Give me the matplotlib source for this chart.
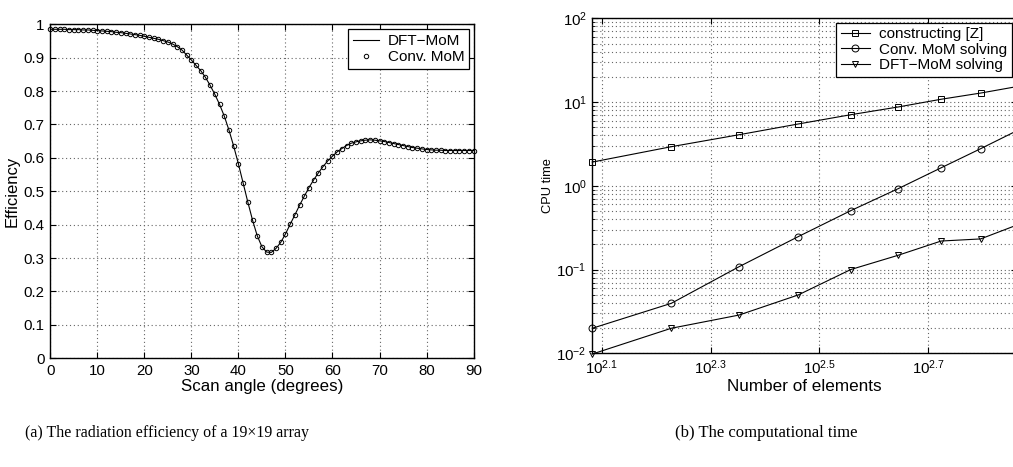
import numpy as np
import matplotlib
matplotlib.use("Agg")
import matplotlib.pyplot as plt
from matplotlib.ticker import FixedLocator, FixedFormatter, LogLocator, NullFormatter

plt.rcParams["font.family"] = ["Liberation Sans", "DejaVu Sans"]
plt.rcParams["mathtext.fontset"] = "custom"
plt.rcParams["mathtext.rm"] = "Liberation Sans"
plt.rcParams["mathtext.it"] = "Liberation Sans:italic"

# (a) radiation efficiency vs scan angle, one sample per degree
angle = np.arange(0, 91)
efficiency = [
    0.985, 0.985, 0.985, 0.985, 0.984, 0.984, 0.984, 0.983, 0.983, 0.982,
    0.981, 0.980, 0.979, 0.978, 0.976, 0.975, 0.973, 0.971, 0.969, 0.967,
    0.964, 0.961, 0.958, 0.955, 0.951, 0.947, 0.941, 0.933, 0.923, 0.908,
    0.893, 0.877, 0.861, 0.841, 0.817, 0.790, 0.760, 0.725, 0.683, 0.635,
    0.582, 0.525, 0.468, 0.414, 0.367, 0.334, 0.318, 0.317, 0.329, 0.347,
    0.372, 0.401, 0.429, 0.458, 0.485, 0.511, 0.534, 0.555, 0.574, 0.591,
    0.605, 0.618, 0.628, 0.637, 0.644, 0.648, 0.651, 0.653, 0.654, 0.653,
    0.651, 0.649, 0.646, 0.643, 0.640, 0.637, 0.634, 0.631, 0.629, 0.627,
    0.625, 0.624, 0.623, 0.623, 0.622, 0.622, 0.622, 0.622, 0.622, 0.622,
    0.622,
]

# (b) CPU time vs number of elements
n_elements = [121, 169, 225, 289, 361, 441, 529, 625, 729]
t_construct = [1.92, 2.93, 4.07, 5.47, 7.06, 8.73, 10.8, 12.8, 15.3]
t_conv = [0.0199, 0.0395, 0.108, 0.247, 0.505, 0.923, 1.64, 2.77, 4.55]
t_dft = [0.0098, 0.0199, 0.0286, 0.0497, 0.100, 0.148, 0.219, 0.232, 0.34]

x_exps = [2.1, 2.3, 2.5, 2.7, 2.9]

fig = plt.figure(figsize=(10.13, 4.67), dpi=100)
ax1 = fig.add_axes([0.0496, 0.2328, 0.4179, 0.7152])
ax2 = fig.add_axes([0.5847, 0.2435, 0.4192, 0.7173])

grid_kw = dict(color="0.4", linestyle=(0, (1, 2.5)), linewidth=0.8)

# ---- left panel
ax1.plot(angle, efficiency, color="black", lw=0.8, label="DFT\u2212MoM")
ax1.plot(angle, efficiency, ls="none", marker="o", ms=3.2, mfc="none", mec="black",
         mew=0.7, label="Conv. MoM", clip_on=False)
ax1.set_xlim(0, 90)
ax1.set_ylim(0, 1)
ax1.set_xticks(np.arange(0, 91, 10))
ax1.set_yticks(np.arange(0, 1.01, 0.1))
ax1.set_yticklabels([f"{v:g}" for v in np.round(np.arange(0, 1.01, 0.1), 1)])
ax1.grid(True, **grid_kw)
ax1.set_xlabel("Scan angle (degrees)", fontsize=12.2, labelpad=1)
ax1.set_ylabel("Efficiency", fontsize=12, labelpad=3)
ax1.legend(loc="upper right", bbox_to_anchor=(0.99, 0.985), borderaxespad=0,
           fontsize=11, fancybox=False, edgecolor="black", framealpha=1,
           handlelength=1.7, handletextpad=0.6, labelspacing=0.15, borderpad=0.3)

# ---- right panel
ax2.loglog(n_elements, t_construct, color="black", lw=0.8, marker="s", ms=4.2,
           mfc="none", mew=0.7, label="constructing [Z]", clip_on=False)
ax2.loglog(n_elements, t_conv, color="black", lw=0.8, marker="o", ms=5,
           mfc="none", mew=0.7, label="Conv. MoM solving", clip_on=False)
ax2.loglog(n_elements, t_dft, color="black", lw=0.8, marker="v", ms=5,
           mfc="none", mew=0.7, label="DFT\u2212MoM solving", clip_on=False)
ax2.set_xlim(121, 729)
ax2.set_ylim(1e-2, 1e2)
ax2.xaxis.set_major_locator(FixedLocator([10 ** e for e in x_exps]))
ax2.xaxis.set_major_formatter(FixedFormatter([r"$\mathdefault{10^{%g}}$" % e for e in x_exps]))
ax2.xaxis.set_minor_locator(FixedLocator([]))
ax2.yaxis.set_major_locator(LogLocator(base=10, numticks=10))
ax2.yaxis.set_minor_locator(LogLocator(base=10, subs=np.arange(2, 10), numticks=10))
ax2.yaxis.set_minor_formatter(NullFormatter())
ax2.grid(True, which="major", **grid_kw)
ax2.grid(True, which="minor", axis="y", **grid_kw)
ax2.set_xlabel("Number of elements", fontsize=12.3, labelpad=1)
ax2.set_ylabel("CPU time", fontsize=9.3, labelpad=2)
ax2.legend(loc="upper right", bbox_to_anchor=(0.988, 0.987), borderaxespad=0,
           fontsize=11, fancybox=False, edgecolor="black", framealpha=1,
           handlelength=1.9, handletextpad=0.6, labelspacing=0.1, borderpad=0.3)

for ax in (ax1, ax2):
    ax.tick_params(which="both", direction="in", top=True, right=True,
                   labelsize=10.8, pad=4)
    ax.tick_params(which="major", length=4)
    ax.tick_params(which="minor", length=2)
    for s in ax.spines.values():
        s.set_linewidth(1.0)
    ax.set_axisbelow(True)
    ax.get_legend().get_frame().set_linewidth(0.9)

fig.text(0.1645, 0.073, "(a) The radiation efficiency of a 19\u00d719 array",
         family="Liberation Serif", fontsize=11.4, ha="center", va="center")
fig.text(0.7565, 0.073, "(b) The computational time",
         family="Liberation Serif", fontsize=12, ha="center", va="center")

fig.savefig("out.png", dpi=100)
